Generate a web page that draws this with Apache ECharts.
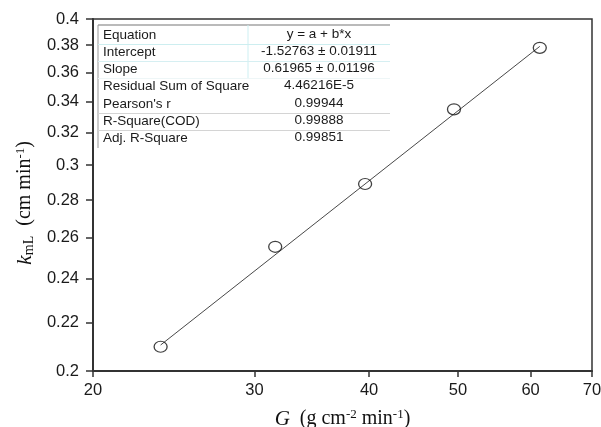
<!DOCTYPE html>
<html><head><meta charset="utf-8">
<script src="https://cdn.jsdelivr.net/npm/echarts@6/dist/echarts.min.js"></script>
<style>html,body{margin:0;padding:0;background:#fff}#c{width:601px;height:427px}</style>
</head><body><div id="c"></div>
<script>
// data (log-log plot)
const G = [23.7, 31.6, 39.6, 49.5, 61.4];
const kmL = [0.2098, 0.2554, 0.289, 0.3348, 0.3779];
const fitG = [23.7, 61.4];
const fitK = [0.2105, 0.3790];
const xTicks = [20, 30, 40, 50, 60, 70];
const yTicks = [0.2, 0.22, 0.24, 0.26, 0.28, 0.3, 0.32, 0.34, 0.36, 0.38, 0.4];
const tableLabels = ['Equation', 'Intercept', 'Slope', 'Residual Sum of Square', "Pearson's r", 'R-Square(COD)', 'Adj. R-Square'];
const tableValues = ['y = a + b*x', '-1.52763 \u00b1 0.01911', '0.61965 \u00b1 0.01196', '4.46216E-5', '0.99944', '0.99888', '0.99851'];

const L = Math.log10;
const chart = echarts.init(document.getElementById('c'), null, {renderer: 'canvas'});

const sans = 'Liberation Sans, Arial, sans-serif';
const serif = 'Liberation Serif, Times New Roman, serif';

// table graphic
const tX0 = 98, tX1 = 390, tColX = 248, tTop = 26.5, rowH = 17.2;
const graphics = [];
graphics.push({type: 'line', shape: {x1: tX0, y1: 25, x2: tX1, y2: 25}, style: {stroke: '#777', lineWidth: 1.2}, z: 10});
graphics.push({type: 'line', shape: {x1: tX0, y1: 25, x2: tX0, y2: 148}, style: {stroke: '#999', lineWidth: 1}, z: 10});
graphics.push({type: 'line', shape: {x1: tColX, y1: 25, x2: tColX, y2: tTop + 3 * rowH}, style: {stroke: '#cdeff2', lineWidth: 1}, z: 10});
const sepColors = ['#cdeef0', '#d6eff2', '#eef6f7', null, '#d4d4d4', '#d4d4d4'];
sepColors.forEach((c, i) => {
  if (!c) return;
  const y = Math.round(tTop + (i + 1) * rowH) + 0.5;
  graphics.push({type: 'line', shape: {x1: tX0, y1: y, x2: tX1, y2: y}, style: {stroke: c, lineWidth: 1}, z: 10});
});
tableLabels.forEach((t, i) => {
  graphics.push({type: 'text', x: 103, y: tTop + (i + 0.5) * rowH,
    style: {text: t, font: '13.5px ' + sans, fill: '#1a1a1a', textVerticalAlign: 'middle', verticalAlign: 'middle'}, z: 11});
});
tableValues.forEach((t, i) => {
  graphics.push({type: 'text', x: 319, y: tTop + (i + 0.5) * rowH - 1,
    style: {text: t, font: '13.5px ' + sans, fill: '#1a1a1a', textAlign: 'center', align: 'center', textVerticalAlign: 'middle', verticalAlign: 'middle'}, z: 11});
});

chart.setOption({
  animation: false,
  backgroundColor: '#fff',
  grid: {left: 93, right: 9, top: 19, bottom: 56, show: true, borderColor: '#333', borderWidth: 1.5,
         backgroundColor: 'transparent', containLabel: false, outerBoundsMode: 'none'},
  xAxis: {
    type: 'value', min: L(xTicks[0]), max: L(xTicks[xTicks.length - 1]),
    name: '{i|G}{n|  (g cm}{sup|-2}{n| min}{sup|-1}{n|)}',
    nameLocation: 'middle', nameGap: 37,
    nameTextStyle: {
      rich: {
        i: {fontFamily: serif, fontStyle: 'italic', fontSize: 21, color: '#111'},
        n: {fontFamily: serif, fontSize: 20, color: '#111'},
        sup: {fontFamily: serif, fontSize: 13, color: '#111', verticalAlign: 'top', padding: [0, 0, 9, 0]}
      }
    },
    splitLine: {show: false},
    axisLine: {lineStyle: {color: '#333', width: 2}},
    axisTick: {customValues: xTicks.map(L), length: 6, lineStyle: {color: '#333', width: 1.5}},
    axisLabel: {customValues: xTicks.map(L), formatter: v => String(Math.round(Math.pow(10, v))),
      margin: 11, fontSize: 16.5, fontFamily: sans, color: '#1a1a1a'}
  },
  yAxis: {
    type: 'value', min: L(yTicks[0]), max: L(yTicks[yTicks.length - 1]),
    name: '{i|k}{sub|mL}{n|  (cm min}{sup|-1}{n|)}',
    nameLocation: 'middle', nameGap: 51,
    nameTextStyle: {
      padding: [0, 16, 0, 0],
      rich: {
        i: {fontFamily: serif, fontStyle: 'italic', fontSize: 22, color: '#111'},
        sub: {fontFamily: serif, fontSize: 14, color: '#111', verticalAlign: 'bottom', padding: [7, 0, 0, 0]},
        n: {fontFamily: serif, fontSize: 20, color: '#111'},
        sup: {fontFamily: serif, fontSize: 13, color: '#111', verticalAlign: 'top', padding: [0, 0, 9, 0]}
      }
    },
    splitLine: {show: false},
    axisLine: {lineStyle: {color: '#333', width: 2}},
    axisTick: {customValues: yTicks.map(L), length: 7, lineStyle: {color: '#333', width: 1.5}},
    axisLabel: {customValues: yTicks.map(L), formatter: v => String(parseFloat(Math.pow(10, v).toFixed(2))),
      margin: 14, fontSize: 16.5, fontFamily: sans, color: '#1a1a1a'}
  },
  series: [
    {type: 'line', data: fitG.map((g, i) => [L(g), L(fitK[i])]), symbol: 'none',
     lineStyle: {color: '#333', width: 0.9}, z: 2},
    {type: 'scatter', data: G.map((g, i) => [L(g), L(kmL[i])]), symbol: 'circle', symbolSize: [13, 11],
     itemStyle: {color: 'rgba(0,0,0,0)', borderColor: '#111', borderWidth: 1.2}, z: 3}
  ],
  graphic: graphics
});
</script>
</body></html>
